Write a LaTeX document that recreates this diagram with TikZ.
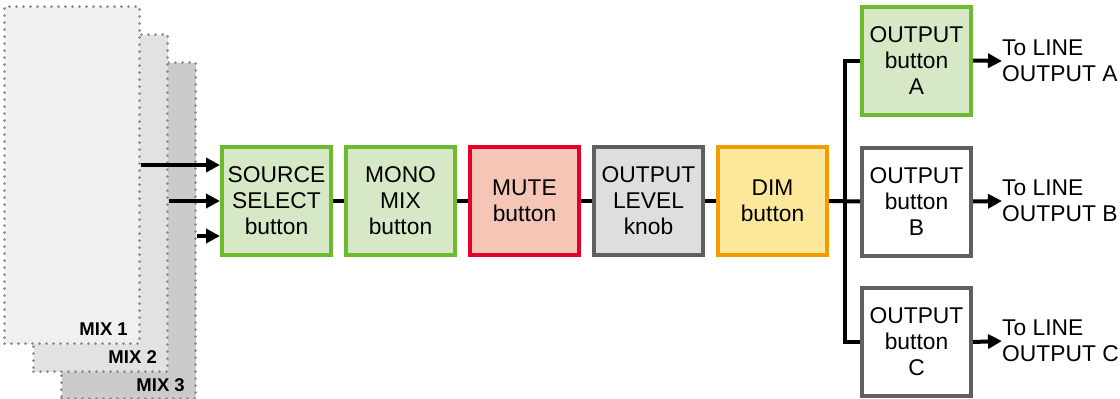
\documentclass[tikz,border=0pt]{standalone}
\usepackage{fontspec}
\setmainfont{Liberation Sans}
\usetikzlibrary{arrows.meta}
\definecolor{grnB}{HTML}{6CBB2E}
\definecolor{grnF}{HTML}{D7E8C6}
\definecolor{redB}{HTML}{E4002B}
\definecolor{redF}{HTML}{F5C6B6}
\definecolor{gryB}{HTML}{5F5F5F}
\definecolor{gryF}{HTML}{DEDEDE}
\definecolor{orgB}{HTML}{F29C00}
\definecolor{orgF}{HTML}{FDE79B}
\definecolor{dotC}{HTML}{8C8C8C}
\definecolor{p1}{HTML}{F0F0F0}
\definecolor{p2}{HTML}{E2E2E2}
\definecolor{p3}{HTML}{CBCBCB}
\tikzset{
  box/.style={draw, line width=4pt, minimum width=109pt, minimum height=108pt, inner sep=0pt, align=center, font=\fontsize{22.8}{26}\selectfont},
  gbox/.style={box, draw=grnB, fill=grnF},
  rbox/.style={box, draw=redB, fill=redF},
  kbox/.style={box, draw=gryB, fill=gryF},
  obox/.style={box, draw=orgB, fill=orgF},
  wbox/.style={box, draw=gryB, fill=white},
  panel/.style={draw=dotC, line width=3pt, line cap=round, dash pattern=on 0pt off 7pt, inner sep=0pt, anchor=north west},
  mixlbl/.style={anchor=base east, inner sep=0pt, font=\fontsize{18.5}{20}\selectfont\bfseries},
  wire/.style={line width=4pt},
  arr/.style={line width=4pt, -{Triangle[length=14pt,width=14pt]}},
  outlbl/.style={anchor=west, inner sep=0pt, align=left, font=\fontsize{22.8}{26}\selectfont},
}
\begin{document}
\begin{tikzpicture}[x=1pt,y=-1pt]
\useasboundingbox (0,0) rectangle (1120,399);
% stacked mix panels
\node[panel, fill=p3, minimum width=134pt, minimum height=336pt] (mix3) at (60,61) {};
\node[panel, fill=p2, minimum width=134pt, minimum height=337pt] (mix2) at (32,33) {};
\node[panel, fill=p1, minimum width=135pt, minimum height=337pt] (mix1) at (3,5) {};
\node[mixlbl] (l1) at (128,335) {MIX 1};
\node[mixlbl] (l2) at (157,363) {MIX 2};
\node[mixlbl] (l3) at (185,391) {MIX 3};
% chain
\node[gbox] (src) at (276.5,201) {SOURCE\\SELECT\\button};
\node[gbox] (mono) at (400.5,201) {MONO\\MIX\\button};
\node[rbox] (mute) at (524.5,201) {MUTE\\button};
\node[kbox] (lev) at (648.5,201) {OUTPUT\\LEVEL\\knob};
\node[obox] (dim) at (772.5,201) {DIM\\button};
\node[gbox] (oa) at (916.5,60.5) {OUTPUT\\button\\A};
\node[wbox] (ob) at (916.5,201.5) {OUTPUT\\button\\B};
\node[wbox] (oc) at (916.5,342) {OUTPUT\\button\\C};
\coordinate (bus) at (845,201);
% inputs
\draw[arr] (mix1.east |- 0,165) -- (src.west |- 0,165);
\draw[arr] (mix2.east |- 0,201) -- (src.west |- 0,201);
\draw[arr] (mix3.east |- 0,236) -- (src.west |- 0,236);
% chain wires
\draw[wire] (src) -- (mono);
\draw[wire] (mono) -- (mute);
\draw[wire] (mute) -- (lev);
\draw[wire] (lev) -- (dim);
\draw[wire] (dim.east) -- (ob.west);
\draw[wire] (oa.west) -| (bus) |- (oc.west);
% outputs
\node[outlbl] (ta) at (1002,61) {To LINE\\OUTPUT A};
\node[outlbl] (tb) at (1002,201) {To LINE\\OUTPUT B};
\node[outlbl] (tc) at (1002,341) {To LINE\\OUTPUT C};
\draw[arr] (oa.east) -- (ta.west);
\draw[arr] (ob.east) -- (tb.west);
\draw[arr] (oc.east) -- (tc.west);
\end{tikzpicture}
\end{document}
